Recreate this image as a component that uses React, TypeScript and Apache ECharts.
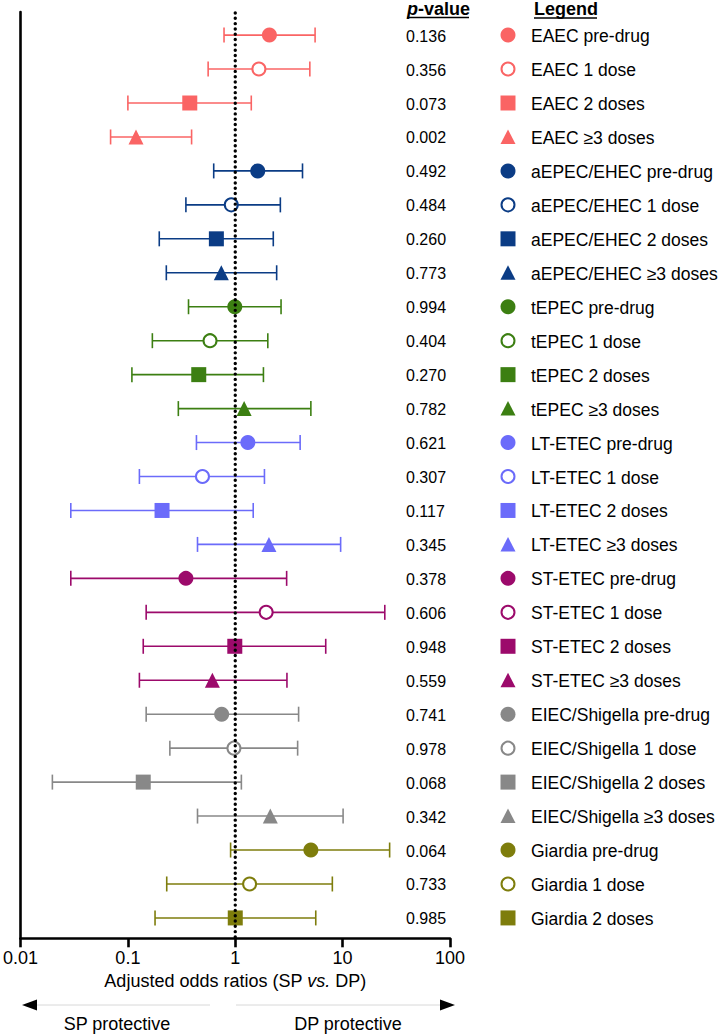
import React, { useEffect, useRef } from "react";
import * as echarts from "echarts";

const pathogens = ["EAEC", "aEPEC/EHEC", "tEPEC", "LT-ETEC", "ST-ETEC", "EIEC/Shigella", "Giardia"];
const pathogenColors = ["#FA6464", "#0B3C85", "#3C7F12", "#6B6BFA", "#9C0A6B", "#888888", "#7E7D0C"];
const doses = ["pre-drug", "1 dose", "2 doses", "\u22653 doses"];
const doseCounts = [4, 4, 4, 4, 4, 4, 3];

const oddsRatios = [2.08, 1.66, 0.377, 0.119, 1.62, 0.918, 0.667, 0.742, 0.99, 0.582, 0.457, 1.21, 1.31, 0.495, 0.208, 2.06, 0.347, 1.94, 0.99, 0.612, 0.747, 0.972, 0.139, 2.12, 5.06, 1.36, 1.0];
const lowerCI = [0.786, 0.559, 0.1, 0.069, 0.63, 0.347, 0.196, 0.228, 0.367, 0.169, 0.109, 0.295, 0.435, 0.128, 0.0294, 0.445, 0.0294, 0.148, 0.139, 0.128, 0.148, 0.246, 0.0198, 0.445, 0.905, 0.23, 0.179];
const upperCI = [5.54, 4.95, 1.41, 0.392, 4.23, 2.63, 2.26, 2.43, 2.67, 2.01, 1.83, 5.06, 4.02, 1.87, 1.47, 9.58, 3.01, 24.7, 6.96, 3.03, 3.89, 3.81, 1.14, 10.1, 27.4, 8.02, 5.62];
const pValues = ["0.136", "0.356", "0.073", "0.002", "0.492", "0.484", "0.260", "0.773", "0.994", "0.404", "0.270", "0.782", "0.621", "0.307", "0.117", "0.345", "0.378", "0.606", "0.948", "0.559", "0.741", "0.978", "0.068", "0.342", "0.064", "0.733", "0.985"];
const xTicks = [0.01, 0.1, 1, 10, 100];

const FONT = "'Liberation Sans', Arial, Helvetica, sans-serif";

type Row = { label: string; color: string; dose: number };
const rows: Row[] = [];
pathogens.forEach((p, pi) => {
  for (let d = 0; d < doseCounts[pi]; d++) {
    rows.push({ label: `${p} ${doses[d]}`, color: pathogenColors[pi], dose: d });
  }
});

const symbolFor = (dose: number) => (dose === 2 ? "rect" : dose === 3 ? "triangle" : "circle");
const sizeFor = (dose: number) => (dose === 1 ? 13 : 15);

function markerShape(dose: number, color: string, cx: number, cy: number) {
  if (dose === 0) return { type: "circle", shape: { cx, cy, r: 7.5 }, style: { fill: color } };
  if (dose === 1) return { type: "circle", shape: { cx, cy, r: 6.5 }, style: { fill: "#fff", stroke: color, lineWidth: 2 } };
  if (dose === 2) return { type: "rect", shape: { x: cx - 7.5, y: cy - 7.5, width: 15, height: 15 }, style: { fill: color } };
  return { type: "polygon", shape: { points: [[cx, cy - 7.5], [cx + 7.5, cy + 7], [cx - 7.5, cy + 7]] }, style: { fill: color } };
}

export default function App() {
  const ref = useRef<HTMLDivElement>(null);
  useEffect(() => {
    if (!ref.current) return;
    const chart = echarts.init(ref.current, undefined, { renderer: "svg" });

    const errorSeries = {
      type: "custom",
      z: 2,
      silent: true,
      encode: { x: [0, 1], y: 2 },
      data: rows.map((r, i) => [lowerCI[i], upperCI[i], i]),
      renderItem: (params: any, api: any) => {
        const idx = params.dataIndex;
        const color = rows[idx].color;
        const lo = api.coord([api.value(0), api.value(2)]);
        const hi = api.coord([api.value(1), api.value(2)]);
        const st = { stroke: color, lineWidth: 1.6 };
        return {
          type: "group",
          children: [
            { type: "line", shape: { x1: lo[0], y1: lo[1], x2: hi[0], y2: hi[1] }, style: st },
            { type: "line", shape: { x1: lo[0], y1: lo[1] - 7.5, x2: lo[0], y2: lo[1] + 7.5 }, style: st },
            { type: "line", shape: { x1: hi[0], y1: hi[1] - 7.5, x2: hi[0], y2: hi[1] + 7.5 }, style: st },
            {
              type: "text",
              x: 406,
              y: lo[1] + 1,
              style: { text: pValues[idx], fill: "#000", font: `16px ${FONT}`, align: "left", verticalAlign: "middle" },
            },
          ],
        };
      },
    };

    // legend drawn row by row, aligned to the same y scale as the data rows
    const legendSeries = {
      type: "custom",
      z: 3,
      silent: true,
      encode: { y: 1 },
      data: rows.map((r, i) => [1, i]),
      renderItem: (params: any, api: any) => {
        const idx = params.dataIndex;
        const r = rows[idx];
        const p = api.coord([1, api.value(1)]);
        const cy = p[1];
        return {
          type: "group",
          children: [
            markerShape(r.dose, r.color, 508, cy),
            {
              type: "text",
              x: 531,
              y: cy + 1,
              style: { text: r.label, fill: "#000", font: `17.5px ${FONT}`, align: "left", verticalAlign: "middle" },
            },
          ],
        };
      },
    };

    const refLine = {
      type: "custom",
      z: 10,
      silent: true,
      data: [[1, -0.68, 26.6]],
      encode: { x: 0, y: [1, 2] },
      renderItem: (params: any, api: any) => {
        const a = api.coord([1, api.value(1)]);
        const b = api.coord([1, api.value(2)]);
        return {
          type: "line",
          shape: { x1: a[0], y1: a[1] + 1, x2: b[0], y2: b[1] },
          style: { stroke: "#000", lineWidth: 3.4, lineDash: [0.01, 5.3], lineCap: "round" },
        };
      },
    };

    const pointSeries = rows.map((r, i) => ({
      type: "scatter",
      name: r.label,
      z: 5,
      symbol: symbolFor(r.dose),
      symbolSize: sizeFor(r.dose),
      itemStyle:
        r.dose === 1
          ? { color: "#ffffff", borderColor: r.color, borderWidth: 2, opacity: 1 }
          : { color: r.color, opacity: 1 },
      emphasis: { disabled: true },
      data: [[oddsRatios[i], i]],
    }));

    chart.setOption({
      animation: false,
      backgroundColor: "#ffffff",
      textStyle: { fontFamily: FONT },
      grid: { left: 17, right: 272, top: 12, bottom: 96.7, containLabel: false },
      xAxis: {
        type: "log",
        logBase: 10,
        min: 0.01,
        max: 100,
        axisLine: { show: true, onZero: false, lineStyle: { color: "#000", width: 2.6 } },
        axisTick: { show: true, length: 9, lineStyle: { color: "#000", width: 2.6 } },
        minorTick: { show: false },
        splitLine: { show: false },
        axisLabel: {
          color: "#000",
          fontSize: 18,
          fontFamily: FONT,
          margin: 11,
          formatter: (v: number) => {
            const n = Number(v.toPrecision(6));
            return xTicks.includes(n) ? String(n) : "";
          },
        },
        name: "{n|Adjusted odds ratios (SP }{i|vs.}{n| DP)}",
        nameLocation: "middle",
        nameGap: 33,
        nameTextStyle: {
          rich: {
            n: { fontSize: 18, color: "#000", fontFamily: FONT },
            i: { fontSize: 18, color: "#000", fontStyle: "italic", fontFamily: FONT },
          },
        },
      },
      yAxis: {
        type: "value",
        inverse: true,
        min: -0.68,
        max: 26.6,
        axisLine: { show: true, onZero: false, lineStyle: { color: "#000", width: 2.6 } },
        axisTick: { show: false },
        axisLabel: { show: false },
        splitLine: { show: false },
      },
      graphic: [
        {
          type: "text",
          left: 407,
          top: 0,
          style: {
            text: "{i|p}{b|-value}",
            rich: {
              i: { fontSize: 18, fontStyle: "italic", fontWeight: "bold", fill: "#000", fontFamily: FONT },
              b: { fontSize: 18, fontWeight: "bold", fill: "#000", fontFamily: FONT },
            },
          },
        },
        { type: "line", shape: { x1: 407, y1: 17.5, x2: 469, y2: 17.5 }, style: { stroke: "#000", lineWidth: 1.5 } },
        {
          type: "text",
          left: 534,
          top: 0,
          style: { text: "Legend", fontSize: 18, fontWeight: "bold", fill: "#000", fontFamily: FONT },
        },
        { type: "line", shape: { x1: 534, y1: 18, x2: 597, y2: 18 }, style: { stroke: "#000", lineWidth: 1.5 } },
        { type: "line", shape: { x1: 37, y1: 1005, x2: 210, y2: 1005 }, style: { stroke: "#d8d8d8", lineWidth: 1 } },
        { type: "polygon", shape: { points: [[22, 1005], [37, 999.5], [37, 1010.5]] }, style: { fill: "#000" } },
        { type: "line", shape: { x1: 236, y1: 1005, x2: 441, y2: 1005 }, style: { stroke: "#d8d8d8", lineWidth: 1 } },
        { type: "polygon", shape: { points: [[455, 1005], [440, 999.5], [440, 1010.5]] }, style: { fill: "#000" } },
        {
          type: "text",
          x: 117,
          y: 1024,
          style: { text: "SP protective", fontSize: 18, fill: "#000", fontFamily: FONT, align: "center", verticalAlign: "middle" },
        },
        {
          type: "text",
          x: 348,
          y: 1024,
          style: { text: "DP protective", fontSize: 18, fill: "#000", fontFamily: FONT, align: "center", verticalAlign: "middle" },
        },
      ],
      series: [errorSeries, legendSeries, ...pointSeries, refLine],
    });
    return () => chart.dispose();
  }, []);
  return <div ref={ref} style={{ position: "absolute", left: 0, top: 0, width: 722, height: 1035 }} />;
}
